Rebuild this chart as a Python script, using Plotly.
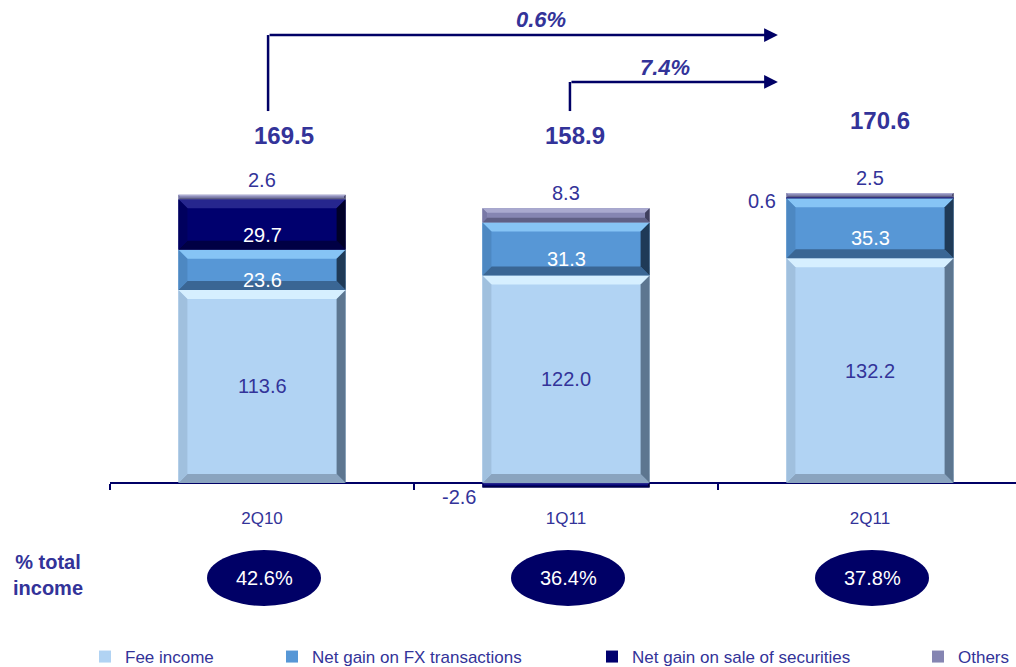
import plotly.graph_objects as go

# ---- data -----------------------------------------------------------------
quarters = ["2Q10", "1Q11", "2Q11"]
fee_income = [113.6, 122.0, 132.2]
fx_gain = [23.6, 31.3, 35.3]
securities_gain = [29.7, -2.6, 0.6]
others = [2.6, 8.3, 2.5]
totals = ["169.5", "158.9", "170.6"]
share_of_income = ["42.6%", "36.4%", "37.8%"]
growth_labels = ["0.6%", "7.4%"]          # 2Q10 -> 2Q11, 1Q11 -> 2Q11

# ---- styling --------------------------------------------------------------
FONT = "Arial, Liberation Sans, sans-serif"
TXT = "#333399"
NAVY = "#000066"
BAR_W = 0.55
PX_PER_UNIT = 1.70          # vertical pixels per unit
FIG_W, FIG_H = 1016, 667
ZERO_PX = 483               # pixel row of the zero line
L_MARGIN = 110
CAT_PX = 304                # pixels per category slot

Y_MAX = ZERO_PX / PX_PER_UNIT
Y_MIN = -(FIG_H - ZERO_PX) / PX_PER_UNIT
X_MIN = -0.5
X_MAX = X_MIN + (FIG_W - L_MARGIN) / CAT_PX

series = [
    dict(name="Fee income", values=fee_income, color="#b1d3f3",
         top="#d6efff", left="#a0c0de", right="#5d7690", bottom="#8aa4bf", text=TXT),
    dict(name="Net gain on FX transactions", values=fx_gain, color="#5797d6",
         top="#86c4f5", left="#4d88c2", right="#1f3a57", bottom="#3a6694", text="white"),
    dict(name="Net gain on sale of securities", values=securities_gain, color="#00006e",
         top="#26268e", left="#00005e", right="#000028", bottom="#000044", text="white"),
    dict(name="Others", values=others, color="#8585b2",
         top="#a9a9cf", left="#7878a6", right="#3f3f5e", bottom="#5f5f85", text=TXT),
]

fig = go.Figure()
legend_ids = ["legend", "legend2", "legend3", "legend4"]
for s, lg in zip(series, legend_ids):
    fig.add_trace(go.Bar(
        x=quarters, y=s["values"], name=s["name"], width=BAR_W,
        marker=dict(color=s["color"], line=dict(width=0)),
        legend=lg, hoverinfo="skip",
    ))

# ---- bevel facets drawn over each stacked segment -------------------------
shapes = []
annotations = []
by_full = 9 / PX_PER_UNIT

pos_base = [0.0] * len(quarters)
neg_base = [0.0] * len(quarters)
segments = []   # (series index, category index, y0, y1)
for si, s in enumerate(series):
    for ci, v in enumerate(s["values"]):
        if v >= 0:
            y0, y1 = pos_base[ci], pos_base[ci] + v
            pos_base[ci] = y1
        else:
            y0, y1 = neg_base[ci] + v, neg_base[ci]
            neg_base[ci] = y0
        segments.append((si, ci, y0, y1))


def facet(points, color):
    path = "M " + " L ".join(f"{x:.4f},{y:.4f}" for x, y in points) + " Z"
    return dict(type="path", path=path, xref="x", yref="y",
                fillcolor=color, line=dict(width=0), layer="above")


for si, ci, y0, y1 in segments:
    s = series[si]
    h = y1 - y0
    by = min(by_full, h * 0.32)
    bx = by * PX_PER_UNIT / CAT_PX
    xa, xb = ci - BAR_W / 2, ci + BAR_W / 2
    shapes.append(facet([(xa, y1), (xb, y1), (xb - bx, y1 - by), (xa + bx, y1 - by)], s["top"]))
    shapes.append(facet([(xa, y0), (xb, y0), (xb - bx, y0 + by), (xa + bx, y0 + by)], s["bottom"]))
    shapes.append(facet([(xa, y0), (xa, y1), (xa + bx, y1 - by), (xa + bx, y0 + by)], s["left"]))
    shapes.append(facet([(xb, y0), (xb, y1), (xb - bx, y1 - by), (xb - bx, y0 + by)], s["right"]))

    v = s["values"][ci]
    label = f"{v:.1f}"
    if abs(v) >= 15:
        shift = 0 if si == 0 else -10
        annotations.append(dict(x=ci, y=(y0 + y1) / 2, text=label, showarrow=False,
                                yshift=shift, font=dict(family=FONT, size=20, color=s["text"])))
    elif si == 3:
        annotations.append(dict(x=ci, y=y1, text=label, showarrow=False, yanchor="middle",
                                yshift=15, font=dict(family=FONT, size=20, color=TXT)))
    elif v < 0:
        annotations.append(dict(x=xa, y=y0, text=label, showarrow=False, xanchor="right",
                                xshift=-4, yshift=-10, font=dict(family=FONT, size=20, color=TXT)))
    else:
        annotations.append(dict(x=xa, y=(y0 + y1) / 2, text=label, showarrow=False,
                                xanchor="right", xshift=-8, yshift=-3,
                                font=dict(family=FONT, size=20, color=TXT)))

# ---- totals above the bars -------------------------------------------------
total_y = [204.7, 204.7, 213.0]
total_dx = [22, 9, 10]
for ci, t in enumerate(totals):
    annotations.append(dict(x=ci, y=total_y[ci], text=f"<b>{t}</b>", showarrow=False,
                            xshift=total_dx[ci], font=dict(family=FONT, size=24, color=TXT)))

# ---- growth connectors -----------------------------------------------------
arrow_end = 1.697
connectors = [  # (start x, start y, level y, label x, label y)
    (0.02, 218.8, 263.5, 0.918, 272.9),
    (1.013, 218.8, 235.9, 1.326, 244.7),
]
for (sx, sy, ly, tx, ty), g in zip(connectors, growth_labels):
    shapes.append(dict(type="line", xref="x", yref="y", x0=sx, y0=sy, x1=sx, y1=ly,
                       line=dict(color=NAVY, width=2.5), layer="above"))
    annotations.append(dict(x=arrow_end, y=ly, ax=sx, ay=ly, axref="x", ayref="y",
                            xref="x", yref="y", showarrow=True, arrowhead=2,
                            arrowsize=1.1, arrowwidth=2.5, arrowcolor=NAVY, text=""))
    annotations.append(dict(x=tx, y=ty, text=f"<b><i>{g}</i></b>", showarrow=False,
                            font=dict(family=FONT, size=22, color=TXT)))

# ---- share of total income ovals ------------------------------------------
oval_y = (ZERO_PX - 578) / PX_PER_UNIT
oval_rx = 57 / CAT_PX
oval_ry = 28 / PX_PER_UNIT
for ci, pct in enumerate(share_of_income):
    cx = ci + 2 / CAT_PX
    shapes.append(dict(type="circle", xref="x", yref="y",
                       x0=cx - oval_rx, x1=cx + oval_rx,
                       y0=oval_y - oval_ry, y1=oval_y + oval_ry,
                       fillcolor=NAVY, line=dict(width=0), layer="above"))
    annotations.append(dict(x=cx, y=oval_y, text=pct, showarrow=False,
                            font=dict(family=FONT, size=20, color="white")))

annotations.append(dict(xref="paper", yref="paper",
                        x=(48 - L_MARGIN) / (FIG_W - L_MARGIN), y=1 - 575 / FIG_H,
                        xanchor="center", yanchor="middle",
                        text="<b>% total<br>income</b>", showarrow=False, align="center",
                        font=dict(family=FONT, size=20, color=TXT)))

# ---- legends, one per series, laid out along the bottom -------------------
legend_text_px = [125, 312, 632, 958]
legend_layout = {}
for lg, px in zip(legend_ids, legend_text_px):
    legend_layout[lg] = dict(
        x=(px - 40 - L_MARGIN) / (FIG_W - L_MARGIN), y=1 - 657 / FIG_H,
        xanchor="left", yanchor="middle", orientation="h",
        bgcolor="rgba(0,0,0,0)", itemwidth=30,
        font=dict(family=FONT, size=17, color=TXT),
    )

zero_pos = (0 - Y_MIN) / (Y_MAX - Y_MIN)

fig.update_layout(
    width=FIG_W, height=FIG_H,
    margin=dict(l=L_MARGIN, r=0, t=0, b=0, autoexpand=False),
    barmode="relative",
    plot_bgcolor="white", paper_bgcolor="white",
    showlegend=True,
    xaxis=dict(type="category", range=[X_MIN, X_MAX], anchor="free", position=zero_pos,
               showline=True, linecolor=NAVY, linewidth=2, ticks="outside",
               tickson="boundaries", ticklen=6, tickwidth=2, tickcolor=NAVY,
               ticklabelstandoff=20, showgrid=False, zeroline=False, automargin=False,
               tickfont=dict(family=FONT, size=17, color=TXT)),
    yaxis=dict(range=[Y_MIN, Y_MAX], visible=False, showgrid=False, zeroline=False,
               automargin=False),
    shapes=shapes, annotations=annotations,
    **legend_layout,
)

fig.write_html("out.html")
